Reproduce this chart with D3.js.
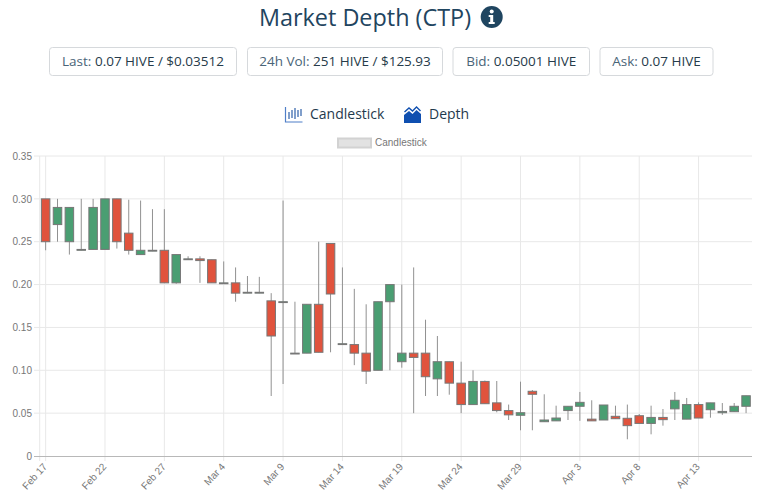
<!DOCTYPE html>
<html><head><meta charset="utf-8">
<script src="https://cdnjs.cloudflare.com/ajax/libs/d3/7.8.5/d3.min.js"></script>
<style>html,body{margin:0;padding:0;background:#fff;overflow:hidden}svg{display:block}</style>
</head><body><svg id="c" width="768" height="504"></svg>
<script>
const dayLabels = ["Feb 17","Feb 18","Feb 19","Feb 20","Feb 21","Feb 22","Feb 23","Feb 24","Feb 25","Feb 26","Feb 27","Feb 28","Mar 1","Mar 2","Mar 3","Mar 4","Mar 5","Mar 6","Mar 7","Mar 8","Mar 9","Mar 10","Mar 11","Mar 12","Mar 13","Mar 14","Mar 15","Mar 16","Mar 17","Mar 18","Mar 19","Mar 20","Mar 21","Mar 22","Mar 23","Mar 24","Mar 25","Mar 26","Mar 27","Mar 28","Mar 29","Mar 30","Mar 31","Apr 1","Apr 2","Apr 3","Apr 4","Apr 5","Apr 6","Apr 7","Apr 8","Apr 9","Apr 10","Apr 11","Apr 12","Apr 13","Apr 14","Apr 15","Apr 16","Apr 17"];
const tickLabels = ["Feb 17","Feb 22","Feb 27","Mar 4","Mar 9","Mar 14","Mar 19","Mar 24","Mar 29","Apr 3","Apr 8","Apr 13"];
const yTicks = [0,0.05,0.10,0.15,0.20,0.25,0.30,0.35];
const bodyTop = [.30,.29,.29,.241,.29,.30,.30,.26,.24,.24,.24,.235,.23,.23,.229,.202,.202,.191,.191,.181,.18,.12,.177,.177,.248,.131,.13,.12,.18,.20,.12,.12,.12,.11,.11,.085,.087,.087,.062,.053,.0505,.0755,.042,.0443,.058,.0626,.043,.0595,.0463,.044,.047,.045,.045,.065,.06,.06,.062,.052,.058,.0703];
const bodyBottom = [.25,.27,.25,.24,.241,.241,.25,.24,.235,.239,.202,.202,.229,.228,.202,.201,.19,.19,.19,.14,.179,.119,.12,.121,.189,.13,.12,.099,.10,.18,.11,.115,.0925,.09,.085,.06,.06,.061,.053,.048,.0475,.072,.04,.041,.053,.058,.041,.042,.0435,.0354,.038,.038,.0424,.055,.043,.0443,.054,.0505,.0517,.058];
const highs = [.30,.30,.29,.30,.30,.30,.30,.299,.298,.288,.288,.235,.233,.233,.229,.227,.22,.21,.209,.19,.298,.18,.177,.25,.248,.22,.195,.177,.18,.20,.20,.22,.159,.14,.11,.11,.10,.088,.0875,.06,.0867,.077,.072,.0587,.058,.0747,.065,.0595,.0587,.06,.049,.0587,.0548,.0747,.0677,.0626,.062,.0618,.0618,.0703];
const lows = [.24,.25,.235,.24,.241,.241,.242,.235,.235,.239,.202,.201,.229,.202,.202,.201,.18,.19,.19,.07,.084,.119,.12,.121,.121,.13,.106,.084,.10,.10,.103,.05,.07,.07,.0715,.05,.06,.061,.051,.042,.03,.03,.04,.041,.042,.041,.041,.042,.0435,.0195,.038,.0253,.0354,.042,.043,.0443,.0447,.048,.0517,.05];
const isUp = [0,1,1,1,1,1,0,0,1,1,0,1,1,0,0,1,0,1,1,0,1,1,1,0,0,1,0,0,1,1,1,0,0,1,0,0,1,0,0,0,1,0,1,1,1,1,0,1,0,0,0,1,0,1,1,0,1,1,1,1];
const statLabels = ["Last:","24h Vol:","Bid:","Ask:"];
const statValues = ["0.07 HIVE / $0.03512","251 HIVE / $125.93","0.05001 HIVE","0.07 HIVE"];

const svg = d3.select("#c");
const FONT = "'Open Sans', sans-serif", AX = "'Liberation Sans', Arial, sans-serif";
const x = d3.scaleBand().domain(dayLabels).range([39.7,752]);
const y = d3.scaleLinear().domain([0,0.35]).range([456,156]);

// header
svg.append("text").attr("x",365).attr("y",25.5).attr("text-anchor","middle").attr("font-family",FONT)
  .attr("font-size",23.4).attr("fill","#1f4560").text("Market Depth (CTP)");
svg.append("circle").attr("cx",491.7).attr("cy",17).attr("r",11).attr("fill","#1f4560");
svg.append("circle").attr("cx",491.7).attr("cy",11.5).attr("r",2).attr("fill","#fff");
svg.append("path").attr("d","M488.7 15h4.5v7h1.5v2h-6v-2h1.5v-5h-1.5z").attr("fill","#fff");

const boxes = [[49.5,187],[247.5,195],[453,136.5],[600,113]];
boxes.forEach((b,i)=>{
  svg.append("rect").attr("x",b[0]).attr("y",47.5).attr("width",b[1]).attr("height",28).attr("rx",3)
    .attr("fill","#fff").attr("stroke","#d6d9dc");
  const t = svg.append("text").attr("x",b[0]+b[1]/2).attr("y",66).attr("text-anchor","middle")
    .attr("font-family",FONT).attr("font-size",13.5);
  t.append("tspan").attr("fill","#4a6478").text(statLabels[i]+" ");
  t.append("tspan").attr("fill","#263b4a").text(statValues[i]);
});

// toggle icons
const ic = svg.append("g").attr("fill","none").attr("stroke","#4f7fc8");
ic.append("path").attr("d","M285.5 107v15h17").attr("stroke-width",1.2);
[[289,112,119],[292,110,118],[295,108,119],[298,110,117],[301,109,116]].forEach(d=>
  ic.append("line").attr("x1",d[0]).attr("x2",d[0]).attr("y1",d[1]).attr("y2",d[2]).attr("stroke","#2d5fa8").attr("stroke-width",1.2));
svg.append("text").attr("x",310).attr("y",119).attr("font-family",FONT).attr("font-size",14).attr("fill","#1f3a4d").text("Candlestick");
svg.append("path").attr("d","M404 123v-8l5-4 3.5 3 4-4 4.5 4v9z").attr("fill","#0f4fb0");
svg.append("path").attr("d","M404.5 112l4.5-4 3.5 3 4-4 4 4").attr("fill","none").attr("stroke","#0f4fb0").attr("stroke-width",1.4);
svg.append("text").attr("x",429).attr("y",119).attr("font-family",FONT).attr("font-size",14).attr("fill","#1f3a4d").text("Depth");

// legend
svg.append("rect").attr("x",338).attr("y",138.5).attr("width",33).attr("height",9).attr("fill","#e2e2e2").attr("stroke","#d2d2d2").attr("stroke-width",2);
svg.append("text").attr("x",375).attr("y",146).attr("font-family",AX).attr("font-size",10).attr("fill","#777").text("Candlestick");

// grid
const grid = svg.append("g").attr("stroke","#e8e8e8");
grid.selectAll("line.h").data(yTicks.filter(d=>d>0)).join("line").attr("x1",34).attr("x2",752).attr("y1",d=>y(d)).attr("y2",d=>y(d));
grid.selectAll("line.v").data(tickLabels).join("line").attr("y1",156).attr("y2",461)
  .attr("x1",d=>x(d)+x.bandwidth()/2).attr("x2",d=>x(d)+x.bandwidth()/2);
grid.append("line").attr("x1",39.7).attr("x2",39.7).attr("y1",156).attr("y2",461);

// axes
const yAxis = d3.axisLeft(y).tickValues(yTicks).tickSize(0).tickPadding(0).tickFormat(d=>d===0?"0":d3.format(".2f")(d));
const gy = svg.append("g").attr("transform","translate(32,0)").call(yAxis);
gy.select(".domain").remove();
gy.selectAll("text").attr("font-family",AX).attr("font-size",10).attr("fill","#777");

const xAxis = d3.axisBottom(x).tickValues(tickLabels).tickSize(0).tickPadding(0);
const gx = svg.append("g").attr("transform","translate(0,456)").call(xAxis);
gx.select(".domain").attr("stroke","#b8b8b8").attr("d","M34,0.5H752");
gx.selectAll("text").attr("font-family",AX).attr("font-size",10).attr("fill","#777")
  .attr("text-anchor","end").attr("dy",0).attr("y",0)
  .attr("transform","translate(2,11) rotate(-48)");

// candles
const cx = i=>x(dayLabels[i])+x.bandwidth()/2;
const g = svg.append("g");
const idx = d3.range(dayLabels.length);
g.selectAll("line").data(idx).join("line").attr("x1",cx).attr("x2",cx)
  .attr("y1",i=>y(highs[i])).attr("y2",i=>y(lows[i])).attr("stroke","#919191").attr("stroke-width",1);
g.selectAll("rect").data(idx).join("rect")
  .attr("x",i=>cx(i)-4.25).attr("width",8.5)
  .attr("y",i=>y(bodyTop[i])).attr("height",i=>Math.max(0.3,y(bodyBottom[i])-y(bodyTop[i])))
  .attr("fill",i=>isUp[i]?"#4a9e72":"#e0533d").attr("stroke","#777").attr("stroke-width",1);
</script></body></html>
